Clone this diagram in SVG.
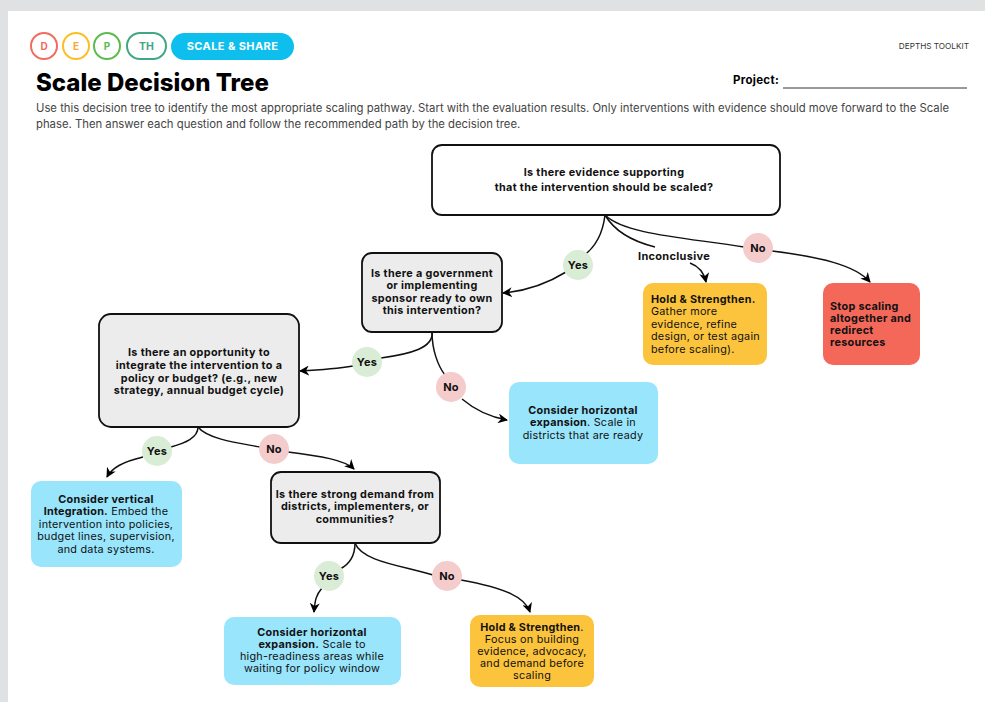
<svg xmlns="http://www.w3.org/2000/svg" width="985" height="702" viewBox="0 0 985 702">
<defs>
<marker id="arr" viewBox="0 0 10 10" refX="9" refY="5" markerWidth="10" markerHeight="10" markerUnits="userSpaceOnUse" orient="auto">
<path d="M0,0 L10,5 L0,10 L3,5 Z" fill="#000"/>
</marker>
<style>
text{font-family:"Inter","Liberation Sans",sans-serif;fill:#111;}
.q{font-size:10.8px;font-weight:700;text-anchor:middle;letter-spacing:0.35px;}
.b{font-size:10.8px;font-weight:700;letter-spacing:0.3px;}
.r{font-size:10.8px;font-weight:400;letter-spacing:0.25px;}
.c{text-anchor:middle;}
.lbl{font-size:11px;font-weight:700;text-anchor:middle;letter-spacing:0.3px;}
.qbox{fill:#ececec;stroke:#111;stroke-width:1.8;}
.line{fill:none;stroke:#111;stroke-width:1.5;}
.yes{fill:#d9ecd5;}
.no{fill:#f4cccc;}
.cyan{fill:#98e5fc;}
.yel{fill:#fcc43d;}
</style>
</defs>
<rect width="985" height="702" fill="#e0e1e3"/>
<rect x="8" y="11" width="977" height="691" fill="#fff"/>

<g id="header">
<circle cx="44" cy="46" r="13" fill="#fff" stroke="#f26b5e" stroke-width="2"/>
<text x="44" y="50" class="c" style="font-size:10px;font-weight:700;fill:#f26b5e">D</text>
<circle cx="76" cy="46" r="13" fill="#fff" stroke="#fbbf24" stroke-width="2"/>
<text x="76" y="50" class="c" style="font-size:10px;font-weight:700;fill:#f6a93b">E</text>
<circle cx="107" cy="46" r="13" fill="#fff" stroke="#5dbb4d" stroke-width="2"/>
<text x="107" y="50" class="c" style="font-size:10px;font-weight:700;fill:#5dbb4d">P</text>
<rect x="127" y="33" width="39" height="26" rx="13" fill="#fff" stroke="#3fa882" stroke-width="2"/>
<text x="146.5" y="50" class="c" style="font-size:10.5px;font-weight:700;fill:#3fa882">TH</text>
<rect x="171" y="33" width="123" height="27" rx="13.5" fill="#0ebfee"/>
<text x="232.5" y="50" class="c" style="font-size:11px;font-weight:700;fill:#fff;letter-spacing:0.4px">SCALE &amp; SHARE</text>
<text x="36" y="91" style="font-size:24px;font-weight:800;fill:#000">Scale Decision Tree</text>
<text x="969" y="49" style="font-size:8.2px;fill:#333;text-anchor:end">DEPTHS TOOLKIT</text>
<text x="733" y="84" style="font-size:11.5px;font-weight:700;fill:#000;letter-spacing:0.3px">Project:</text>
<line x1="783" y1="88" x2="967" y2="88" stroke="#333" stroke-width="1"/>
<text x="36" y="112" style="font-size:11.3px;fill:#444">Use this decision tree to identify the most appropriate scaling pathway. Start with the evaluation results. Only interventions with evidence should move forward to the Scale</text>
<text x="36" y="128" style="font-size:11.3px;fill:#444">phase. Then answer each question and follow the recommended path by the decision tree.</text>
</g>

<g id="connectors">
<path class="line" d="M605,215 C602,240 590,252 580,258"/>
<path class="line" d="M566,272 C545,285 525,291 503,293" marker-end="url(#arr)"/>
<path class="line" d="M605,215 C615,232 635,242 655,247"/>
<path class="line" d="M690,263 C698,266 704,272 706,282" marker-end="url(#arr)"/>
<path class="line" d="M605,215 C625,235 690,238 744,247"/>
<path class="line" d="M772,251 C820,257 855,265 870,282" marker-end="url(#arr)"/>
<path class="line" d="M432,332 C434,348 410,354 381,358"/>
<path class="line" d="M353,366 C335,369 318,370 300,371" marker-end="url(#arr)"/>
<path class="line" d="M432,332 C432,350 438,366 445,375"/>
<path class="line" d="M462,399 C475,410 490,417 507,420" marker-end="url(#arr)"/>
<path class="line" d="M198,427 C198,438 185,443 171,447"/>
<path class="line" d="M143,457 C122,462 112,468 107,477" marker-end="url(#arr)"/>
<path class="line" d="M198,427 C208,440 245,444 260,447"/>
<path class="line" d="M288,452 C320,456 345,460 354,469" marker-end="url(#arr)"/>
<path class="line" d="M355,543 C355,556 350,564 340,569"/>
<path class="line" d="M322,588 C316,595 315,600 314,612" marker-end="url(#arr)"/>
<path class="line" d="M355,543 C362,562 405,566 433,575"/>
<path class="line" d="M461,580 C505,588 525,597 530,612" marker-end="url(#arr)"/>
<circle class="yes" cx="578" cy="265" r="15"/>
<text x="578" y="269" class="lbl">Yes</text>
<text x="674" y="260" class="lbl">Inconclusive</text>
<circle class="no" cx="758" cy="248" r="15"/>
<text x="758" y="252" class="lbl">No</text>
<circle class="yes" cx="367" cy="362" r="15"/>
<text x="367" y="366" class="lbl">Yes</text>
<circle class="no" cx="451" cy="387" r="15"/>
<text x="451" y="391" class="lbl">No</text>
<circle class="yes" cx="157" cy="451" r="15"/>
<text x="157" y="455" class="lbl">Yes</text>
<circle class="no" cx="274" cy="449" r="15"/>
<text x="274" y="453" class="lbl">No</text>
<circle class="yes" cx="329" cy="576" r="15"/>
<text x="329" y="580" class="lbl">Yes</text>
<circle class="no" cx="447" cy="576" r="15"/>
<text x="447" y="580" class="lbl">No</text>
</g>

<g id="q-evidence">
<rect x="432" y="145" width="348" height="70" rx="10" fill="#fff" stroke="#111" stroke-width="1.8"/>
<text x="604" y="176" class="q">Is there evidence supporting</text>
<text x="604" y="191" class="q">that the intervention should be scaled?</text>
</g>

<g id="q-sponsor">
<rect class="qbox" x="362" y="253" width="140" height="79" rx="10"/>
<text x="432" y="277" class="q">Is there a government</text>
<text x="432" y="289" class="q">or implementing</text>
<text x="432" y="302" class="q">sponsor ready to own</text>
<text x="432" y="314" class="q">this intervention?</text>
</g>

<g id="q-integrate">
<rect class="qbox" x="99" y="314" width="200" height="113" rx="12"/>
<text x="199" y="356" class="q">Is there an opportunity to</text>
<text x="199" y="369" class="q">integrate the intervention to a</text>
<text x="199" y="382" class="q">policy or budget? (e.g., new</text>
<text x="199" y="394" class="q">strategy, annual budget cycle)</text>
</g>

<g id="q-demand">
<rect class="qbox" x="271" y="472" width="169" height="71" rx="10"/>
<text x="355" y="498" class="q">Is there strong demand from</text>
<text x="355" y="510" class="q">districts, implementers, or</text>
<text x="355" y="523" class="q">communities?</text>
</g>

<g id="hold-1">
<rect class="yel" x="643" y="283" width="124" height="82" rx="10"/>
<text x="651" y="303" class="b">Hold &amp; Strengthen.</text>
<text x="651" y="315" class="r">Gather more</text>
<text x="651" y="328" class="r">evidence, refine</text>
<text x="651" y="340" class="r">design, or test again</text>
<text x="651" y="353" class="r">before scaling).</text>
</g>

<g id="stop">
<rect x="823" y="283" width="97" height="82" rx="10" fill="#f4685a"/>
<text x="830" y="310" class="b">Stop scaling</text>
<text x="830" y="322" class="b">altogether and</text>
<text x="830" y="334" class="b">redirect</text>
<text x="830" y="346" class="b">resources</text>
</g>

<g id="horizontal-1">
<rect class="cyan" x="509" y="382" width="149" height="82" rx="10"/>
<text x="583" y="414" class="c b">Consider horizontal</text>
<text x="583" y="426" class="c r"><tspan font-weight="700">expansion</tspan>. Scale in</text>
<text x="583" y="439" class="c r">districts that are ready</text>
</g>

<g id="vertical">
<rect class="cyan" x="31" y="481" width="151" height="86" rx="10"/>
<text x="106" y="503" class="c b">Consider vertical</text>
<text x="106" y="515" class="c r"><tspan font-weight="700">Integration.</tspan> Embed the</text>
<text x="106" y="528" class="c r">intervention  into policies,</text>
<text x="106" y="540" class="c r">budget lines, supervision,</text>
<text x="106" y="553" class="c r">and data systems.</text>
</g>

<g id="horizontal-2">
<rect class="cyan" x="224" y="617" width="177" height="68" rx="10"/>
<text x="312" y="636" class="c b">Consider horizontal</text>
<text x="312" y="648" class="c r"><tspan font-weight="700">expansion.</tspan> Scale to</text>
<text x="312" y="660" class="c r">high-readiness areas while</text>
<text x="312" y="672" class="c r">waiting for policy window</text>
</g>

<g id="hold-2">
<rect class="yel" x="470" y="615" width="124" height="72" rx="10"/>
<text x="532" y="631" class="c r"><tspan font-weight="700">Hold &amp; Strengthen</tspan>.</text>
<text x="532" y="643" class="c r">Focus on building</text>
<text x="532" y="655" class="c r">evidence, advocacy,</text>
<text x="532" y="667" class="c r">and demand before</text>
<text x="532" y="679" class="c r">scaling</text>
</g>
</svg>
